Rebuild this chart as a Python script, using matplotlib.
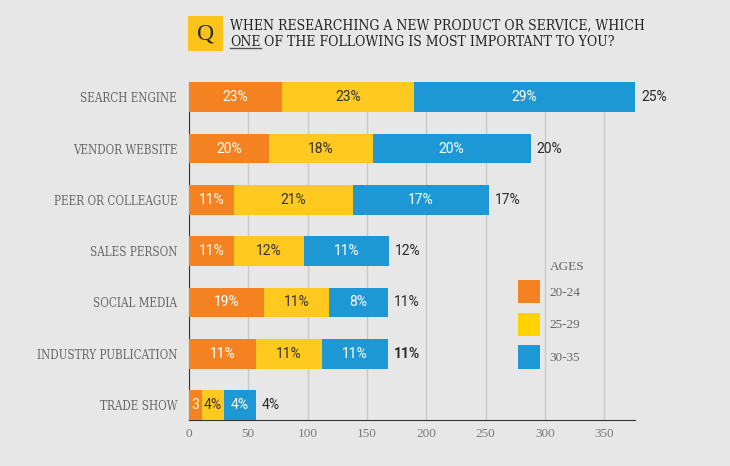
import matplotlib.pyplot as plt
from matplotlib.patches import Rectangle, Patch
from matplotlib.lines import Line2D

categories = ['SEARCH ENGINE', 'VENDOR WEBSITE', 'PEER OR COLLEAGUE', 'SALES PERSON',
              'SOCIAL MEDIA', 'INDUSTRY PUBLICATION', 'TRADE SHOW']
age_groups = ['20-24', '25-29', '30-35']

# segment widths
orange_vals = [78, 67.5, 38, 38, 63.5, 56.5, 11]
yellow_vals = [112, 87.5, 100.5, 59, 54.5, 55.5, 18.5]
blue_vals = [187, 133, 114.5, 72, 50, 56, 27]

orange_labels = ['23%', '20%', '11%', '11%', '19%', '11%', '3']
yellow_labels = ['23%', '18%', '21%', '12%', '11%', '11%', '4%']
blue_labels = ['29%', '20%', '17%', '11%', '8%', '11%', '4%']
total_labels = ['25%', '20%', '17%', '12%', '11%', '11%', '4%']

xticks = [0, 50, 100, 150, 200, 250, 300, 350]

bg = '#e7e7e7'
c_orange = '#f58220'
c_yellow = '#ffc91f'
c_blue = '#1e98d5'
serif = 'Liberation Serif'
slab = {'family': 'DejaVu Serif', 'stretch': 'condensed'}
sans = 'Roboto'

fig = plt.figure(figsize=(7.3, 4.66), dpi=100, facecolor=bg)
ax = fig.add_axes([189/730, 1 - 420/466, (635 - 189)/730, (420 - 82)/466])
ax.set_facecolor(bg)

y = list(range(len(categories)))
h = 0.58
left2 = [a for a in orange_vals]
left3 = [a + b for a, b in zip(orange_vals, yellow_vals)]
totals = [a + b + c for a, b, c in zip(orange_vals, yellow_vals, blue_vals)]

b1 = ax.barh(y, orange_vals, height=h, color=c_orange, zorder=3)
b2 = ax.barh(y, yellow_vals, left=left2, height=h, color=c_yellow, zorder=3)
b3 = ax.barh(y, blue_vals, left=left3, height=h, color=c_blue, zorder=3)

ax.bar_label(b1, labels=orange_labels, label_type='center', color='white',
             fontsize=10, fontfamily=sans, zorder=4)
ax.bar_label(b2, labels=yellow_labels, label_type='center', color='#333333',
             fontsize=10, fontfamily=sans, zorder=4)
ax.bar_label(b3, labels=blue_labels, label_type='center', color='white',
             fontsize=10, fontfamily=sans, zorder=4)

for i, (t, lab) in enumerate(zip(totals, total_labels)):
    ax.annotate(lab, (t, i), xytext=(4, 0), textcoords='offset points',
                va='center', ha='left', fontsize=10, fontfamily=sans,
                color='#2a2a2a', annotation_clip=False,
                fontweight='bold' if i == 5 else 'normal')

ax.set_xlim(0, 376)
ax.set_ylim(6 + h/2, -0.296)
ax.set_yticks(y)
ax.set_yticklabels(categories, fontfamily=slab['family'], fontstretch=slab['stretch'],
                   fontsize=8.4, color='#666666')
ax.set_xticks(xticks)
ax.set_xticklabels([str(v) for v in xticks], fontfamily=serif, fontsize=9.5, color='#7a7a7a')
ax.tick_params(axis='y', length=0, pad=8.5)
ax.tick_params(axis='x', length=0, pad=6)

ax.grid(axis='x', color='#c9c9c9', linewidth=1, zorder=0)
ax.set_axisbelow(True)
for s in ['top', 'right']:
    ax.spines[s].set_visible(False)
ax.spines['left'].set_color('#333333')
ax.spines['bottom'].set_color('#333333')
ax.spines['left'].set_zorder(2)

handles = [Patch(facecolor=c, edgecolor='none') for c in [c_orange, '#ffd200', c_blue]]
leg = ax.legend(handles, age_groups, loc='upper left',
                bbox_to_anchor=(518/730, 1 - 280/466), bbox_transform=fig.transFigure,
                frameon=False, prop={'family': serif, 'size': 9.5},
                handlelength=1.7, handleheight=2.35, labelspacing=0.7,
                handletextpad=0.7, borderpad=0, borderaxespad=0)
for t in leg.get_texts():
    t.set_color('#666666')
fig.text(550/730, 1 - 267/466, 'AGES', ha='left', va='center',
         fontfamily=serif, fontsize=9.5, color='#666666')

# question header
fig.patches.append(Rectangle((188/730, 1 - 51/466), 35/730, 35/466,
                             transform=fig.transFigure, facecolor='#fbc21a',
                             edgecolor='none'))
fig.text(205.5/730, 1 - 34/466, 'Q', ha='center', va='center',
         fontfamily=serif, fontsize=17, color='#2a2a2a')
fig.text(230/730, 1 - 25.5/466, 'WHEN RESEARCHING A NEW PRODUCT OR SERVICE, WHICH',
         ha='left', va='center', fontfamily=slab['family'], fontstretch=slab['stretch'],
         fontsize=10, color='#222222')
one = fig.text(230/730, 1 - 42/466, 'ONE', ha='left', va='center',
               fontfamily=slab['family'], fontstretch=slab['stretch'],
               fontsize=10, color='#222222')
fig.canvas.draw()
bb = one.get_window_extent()
fig.text((bb.x1 + 4)/730, 1 - 42/466, 'OF THE FOLLOWING IS MOST IMPORTANT TO YOU?',
         ha='left', va='center', fontfamily=slab['family'], fontstretch=slab['stretch'],
         fontsize=10, color='#222222')
fig.lines.append(Line2D([bb.x0/730, bb.x1/730], [(bb.y0 + 1)/466, (bb.y0 + 1)/466],
                        transform=fig.transFigure, color='#555555', linewidth=1))

fig.savefig('out.png', dpi=100, facecolor=bg)
